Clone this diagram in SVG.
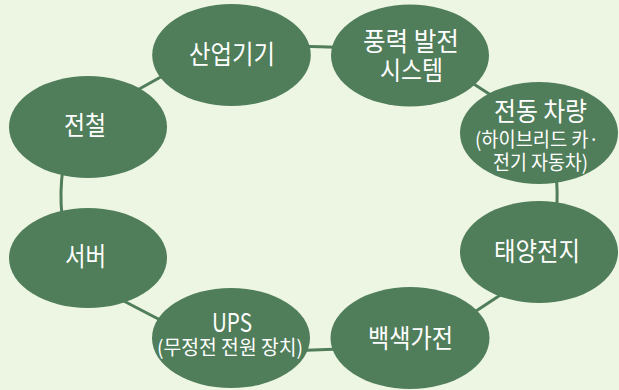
<svg xmlns="http://www.w3.org/2000/svg" width="619" height="390" viewBox="0 0 619 390">
<style>
.n ellipse{fill:#507d5a}
.c path{fill:none;stroke:#507d5a;stroke-width:3;stroke-linecap:round}
text{fill:#ffffff;font-family:"Noto Sans CJK KR","Noto Sans",sans-serif;text-anchor:middle}
.m{font-size:26px}
.s{font-size:20px}
</style>
<rect x="0" y="0" width="619" height="390" fill="#edf5e3"/>
<g id="connectors" class="c">
<path d="M300,46.3 Q320,46.7 342,47.6"/>
<path d="M466,79 L500,101"/>
<path d="M556,175 Q558,192 556.5,210"/>
<path d="M508,290 L470,315"/>
<path d="M300,350.6 L340,348.9"/>
<path d="M118,298 L166,323"/>
<path d="M63,168 Q59.5,192 62,216"/>
<path d="M132,93 L168,73"/>
</g>
<g id="node-industrial" class="n"><ellipse cx="231.5" cy="55" rx="79.3" ry="51"/><text class="m" x="232" y="64" textLength="86" lengthAdjust="spacingAndGlyphs">산업기기</text></g>
<g id="node-wind" class="n"><ellipse cx="410" cy="55.5" rx="79" ry="51"/><text class="m" x="411" y="51" textLength="96" lengthAdjust="spacingAndGlyphs">풍력 발전</text><text class="m" x="411.5" y="80" textLength="63" lengthAdjust="spacingAndGlyphs">시스템</text></g>
<g id="node-ev" class="n"><ellipse cx="539" cy="133" rx="79" ry="51"/><text class="m" x="540.5" y="121" textLength="93" lengthAdjust="spacingAndGlyphs">전동 차량</text><text class="s" x="537" y="147" textLength="124" lengthAdjust="spacingAndGlyphs">(하이브리드 카·</text><text class="s" x="540.5" y="170" textLength="95" lengthAdjust="spacingAndGlyphs">전기 자동차)</text></g>
<g id="node-solar" class="n"><ellipse cx="539" cy="252" rx="79" ry="51"/><text class="m" x="537" y="261" textLength="86" lengthAdjust="spacingAndGlyphs">태양전지</text></g>
<g id="node-appliance" class="n"><ellipse cx="410" cy="338" rx="79.5" ry="51"/><text class="m" x="410.5" y="348" textLength="85" lengthAdjust="spacingAndGlyphs">백색가전</text></g>
<g id="node-ups" class="n"><ellipse cx="231" cy="338" rx="79" ry="50"/><text class="m" x="232" y="332" textLength="40" lengthAdjust="spacingAndGlyphs">UPS</text><text class="s" x="230" y="355" textLength="146" lengthAdjust="spacingAndGlyphs">(무정전 전원 장치)</text></g>
<g id="node-server" class="n"><ellipse cx="88" cy="258" rx="79" ry="50"/><text class="m" x="85.5" y="266" textLength="41" lengthAdjust="spacingAndGlyphs">서버</text></g>
<g id="node-train" class="n"><ellipse cx="88" cy="127" rx="79" ry="51"/><text class="m" x="85" y="135" textLength="42" lengthAdjust="spacingAndGlyphs">전철</text></g>
</svg>
